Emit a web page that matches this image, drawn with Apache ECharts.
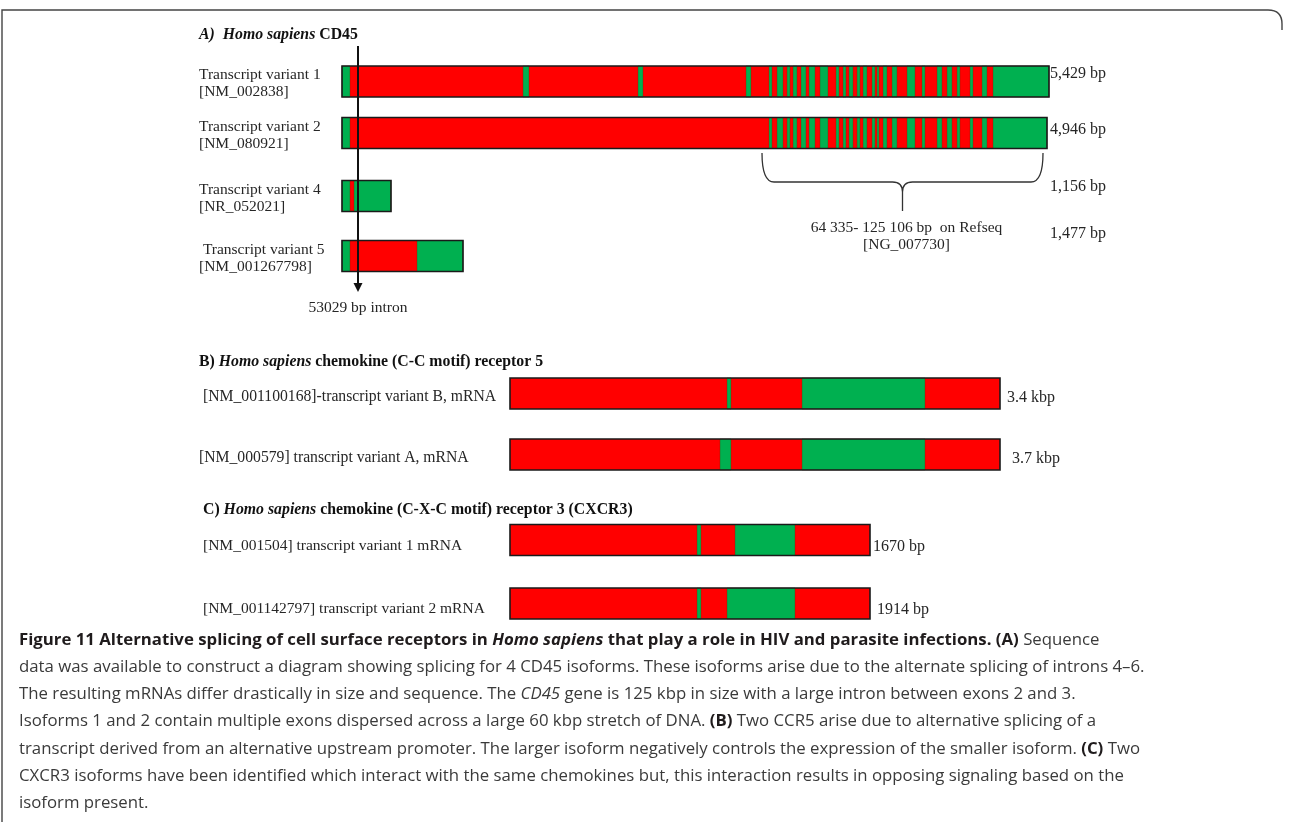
<!DOCTYPE html>
<html>
<head>
<meta charset="utf-8">
<title>Figure 11 - alternative splicing</title>
<script src="https://cdn.jsdelivr.net/npm/echarts@6/dist/echarts.min.js"></script>
<style>
  html, body { margin: 0; padding: 0; background: #fff; }
  #chart { width: 1292px; height: 822px; }
</style>
</head>
<body>
<div id="chart"></div>
<script>
// ---- values (x in diagram units along the transcripts) ----
const cd45Labels = ['Transcript variant 1\n[NM_002838]', 'Transcript variant 2\n[NM_080921]', 'Transcript variant 4\n[NR_052021]', ' Transcript variant 5\n[NM_001267798]']
const cd45Sizes = ['5,429 bp', '4,946 bp', '1,156 bp', '1,477 bp']
const cd45Spans = [[342, 1049], [342, 1047], [342, 391], [342, 463]]
const cd45Dense = [[769, 772], [777, 783], [787, 790], [793, 797], [801, 806], [809, 815], [820, 828], [836, 839], [843, 846], [849, 853], [857, 860], [863, 867], [872, 875], [877, 879], [883, 887], [892, 897], [907, 915], [922, 925], [937, 942], [947, 952], [957, 960], [970, 973], [982, 987]]
const cd45Green = [
  [[342, 350], [523, 529], [638, 643], [746, 751]].concat(cd45Dense, [[993, 1049]]),
  [[342, 350]].concat(cd45Dense, [[993, 1047]]),
  [[342, 350], [354, 391]],
  [[342, 350], [417, 463]]
]
const intronAt = 358
const intronLabel = '53029 bp intron'
const refseqSpan = [762, 1043]
const refseqLabel = '64 335- 125 106 bp  on Refseq\n[NG_007730]'

const ccr5Labels = ['[NM_001100168]-transcript variant B, mRNA', '[NM_000579] transcript variant A, mRNA']
const ccr5Sizes = ['3.4 kbp', '3.7 kbp']
const ccr5Spans = [[510, 1000], [510, 1000]]
const ccr5Green = [[[727, 731], [802, 925]], [[720, 731], [802, 925]]]

const cxcr3Labels = ['[NM_001504] transcript variant 1 mRNA', '[NM_001142797] transcript variant 2 mRNA']
const cxcr3Sizes = ['1670 bp', '1914 bp']
const cxcr3Spans = [[510, 870], [510, 870]]
const cxcr3Green = [[[697, 701], [735, 795]], [[697, 701], [727, 795]]]

// ---- layout / styles ----
const RED = '#ff0000'
const GREEN = '#00b050'
const SERIF = '"Liberation Serif", "Times New Roman", serif'
const SANS = '"Open Sans", "Noto Sans", sans-serif'
const CAP_SIZE = 16.8
const BAR_H = 31
const rows = {
  cd45: [81.5, 133, 196, 256],
  ccr5: [393.5, 454.5],
  cxcr3: [540, 603.5]
}
const cd45SizeY = [74, 130, 187, 234]
const labelX = 199
const arrowTop = 46
const arrowTip = 292
const braceTop = 153
const braceBottom = 182
const braceStem = 211

function buildSegments (spans, greens, ys) {
  var out = []
  spans.forEach((s, i) => {
    out.push([s[0], s[1], ys[i], 0])
    greens[i].forEach(g => out.push([g[0], g[1], ys[i], 1]))
  })
  return out
}
function buildOutlines (spans, ys) {
  return spans.map((s, i) => [s[0], s[1], ys[i]])
}

const segData = [].concat(
  buildSegments(cd45Spans, cd45Green, rows.cd45),
  buildSegments(ccr5Spans, ccr5Green, rows.ccr5),
  buildSegments(cxcr3Spans, cxcr3Green, rows.cxcr3)
)
const outlineData = [].concat(
  buildOutlines(cd45Spans, rows.cd45),
  buildOutlines(ccr5Spans, rows.ccr5),
  buildOutlines(cxcr3Spans, rows.cxcr3)
)

const chart = echarts.init(document.getElementById('chart'))

function barRect (api) {
  var p0 = api.coord([api.value(0), api.value(2)])
  var p1 = api.coord([api.value(1), api.value(2)])
  var h = api.size([0, BAR_H])[1]
  return { x: p0[0], y: p0[1] - h / 2, width: p1[0] - p0[0], height: h }
}

chart.setOption({
  animation: false,
  grid: { left: 0, right: 0, top: 0, bottom: 0 },
  xAxis: { type: 'value', min: 0, max: 1292, show: false },
  yAxis: { type: 'value', min: 0, max: 822, inverse: true, show: false },
  series: [
    {
      type: 'custom',
      name: 'segments',
      encode: { x: [0, 1], y: 2 },
      data: segData,
      renderItem: function (params, api) {
        var green = api.value(3) === 1
        return {
          type: 'rect',
          shape: barRect(api),
          style: {
            fill: green ? GREEN : RED,
            stroke: green ? 'rgba(110,40,0,0.45)' : null,
            lineWidth: green ? 0.8 : 0
          }
        }
      }
    },
    {
      type: 'custom',
      name: 'outlines',
      encode: { x: [0, 1], y: 2 },
      data: outlineData,
      renderItem: function (params, api) {
        return {
          type: 'rect',
          shape: barRect(api),
          style: { fill: null, stroke: '#1a1a1a', lineWidth: 1.6 }
        }
      }
    },
    {
      // 53029 bp intron arrow
      type: 'custom',
      name: 'intron',
      encode: { x: 0, y: [1, 2] },
      data: [[intronAt, arrowTop, arrowTip]],
      renderItem: function (params, api) {
        var p0 = api.coord([api.value(0), api.value(1)])
        var p1 = api.coord([api.value(0), api.value(2)])
        return {
          type: 'group',
          children: [
            { type: 'line', shape: { x1: p0[0], y1: p0[1], x2: p1[0], y2: p1[1] - 6 }, style: { stroke: '#111', lineWidth: 2 } },
            { type: 'polygon', shape: { points: [[p1[0] - 4.5, p1[1] - 9], [p1[0] + 4.5, p1[1] - 9], [p1[0], p1[1]]] }, style: { fill: '#111' } }
          ]
        }
      }
    },
    {
      // refseq brace under the alternatively spliced region
      type: 'custom',
      name: 'brace',
      encode: { x: [0, 1], y: [2, 3] },
      data: [[refseqSpan[0], refseqSpan[1], braceTop, braceBottom, braceStem]],
      renderItem: function (params, api) {
        var l = api.coord([api.value(0), api.value(2)])
        var r = api.coord([api.value(1), api.value(2)])
        var by = api.coord([0, api.value(3)])[1]
        var sy = api.coord([0, api.value(4)])[1]
        var m = (l[0] + r[0]) / 2
        var d = 'M' + l[0] + ' ' + l[1] + ' Q' + l[0] + ' ' + by + ' ' + (l[0] + 12) + ' ' + by +
          ' L' + (m - 10) + ' ' + by + ' Q' + m + ' ' + by + ' ' + m + ' ' + (by + 10) + ' L' + m + ' ' + sy +
          ' M' + m + ' ' + (by + 10) + ' Q' + m + ' ' + by + ' ' + (m + 10) + ' ' + by +
          ' L' + (r[0] - 12) + ' ' + by + ' Q' + r[0] + ' ' + by + ' ' + r[0] + ' ' + r[1]
        return { type: 'path', shape: { pathData: d }, style: { fill: null, stroke: '#333', lineWidth: 1.3 } }
      }
    }
  ]
})

// ---- texts & frame ----
function px (x, y) {
  return chart.convertToPixel({ gridIndex: 0 }, [x, y])
}
function serifText (text, x, y, align, size) {
  return {
    type: 'text', x: x, y: y, silent: true,
    style: { text: text, align: align || 'left', verticalAlign: 'middle', fontFamily: SERIF, fontSize: size || 15.5, lineHeight: 17, fill: '#262626' }
  }
}
function richText (text, x, y, rich) {
  return {
    type: 'text', x: x, y: y, silent: true,
    style: { text: text, align: 'left', verticalAlign: 'middle', rich: rich }
  }
}

const titleRich = {
  b: { fontFamily: SERIF, fontSize: 15.8, fontWeight: 'bold', fill: '#111' },
  bi: { fontFamily: SERIF, fontSize: 15.8, fontWeight: 'bold', fontStyle: 'italic', fill: '#111' }
}
const capRich = {
  b: { fontFamily: SANS, fontSize: CAP_SIZE, fontWeight: 'bold', fill: '#1f1b1c' },
  bi: { fontFamily: SANS, fontSize: CAP_SIZE, fontWeight: 'bold', fontStyle: 'italic', fill: '#1f1b1c' },
  i: { fontFamily: SANS, fontSize: CAP_SIZE, fontStyle: 'italic', fill: '#3a3a3a' },
  n: { fontFamily: SANS, fontSize: CAP_SIZE, fill: '#3a3a3a' }
}
const captionLines = [
  '{b|Figure 11 Alternative splicing of cell surface receptors in }{bi|Homo sapiens}{b| that play a role in HIV and parasite infections. (A)}{n| Sequence}',
  '{n|data was available to construct a diagram showing splicing for 4 CD45 isoforms. These isoforms arise due to the alternate splicing of introns 4–6.}',
  '{n|The resulting mRNAs differ drastically in size and sequence. The }{i|CD45}{n| gene is 125 kbp in size with a large intron between exons 2 and 3.}',
  '{n|Isoforms 1 and 2 contain multiple exons dispersed across a large 60 kbp stretch of DNA. }{b|(B)}{n| Two CCR5 arise due to alternative splicing of a}',
  '{n|transcript derived from an alternative upstream promoter. The larger isoform negatively controls the expression of the smaller isoform. }{b|(C)}{n| Two}',
  '{n|CXCR3 isoforms have been identified which interact with the same chemokines but, this interaction results in opposing signaling based on the}',
  '{n|isoform present.}'
]

var g = []
// frame
g.push({ type: 'polyline', silent: true, shape: { points: [[2, 822], [2, 10], [1268, 10]] }, style: { fill: null, stroke: '#444', lineWidth: 1.4 } })
g.push({ type: 'bezierCurve', silent: true, shape: { x1: 1268, y1: 10, cpx1: 1282, cpy1: 10, x2: 1282, y2: 24 }, style: { fill: null, stroke: '#444', lineWidth: 1.4 } })
g.push({ type: 'line', silent: true, shape: { x1: 1282, y1: 24, x2: 1282, y2: 30 }, style: { stroke: '#444', lineWidth: 1.4 } })

// section titles
g.push(richText('{bi|A)  Homo sapiens }{b|CD45}', labelX, 35, titleRich))
g.push(richText('{b|B) }{bi|Homo sapiens}{b| chemokine (C-C motif) receptor 5}', labelX, 362, titleRich))
g.push(richText('{b|C) }{bi|Homo sapiens}{b| chemokine (C-X-C motif) receptor 3 (CXCR3)}', 203, 510, titleRich))

// row labels
cd45Labels.forEach((t, i) => g.push(serifText(t, labelX, rows.cd45[i] + 2)))
ccr5Labels.forEach((t, i) => g.push(serifText(t, i === 0 ? 203 : labelX, rows.ccr5[i] + 3, 'left', 15.7)))
cxcr3Labels.forEach((t, i) => g.push(serifText(t, 203, rows.cxcr3[i] + 6 - i)))

// size labels
cd45Sizes.forEach((t, i) => g.push(serifText(t, px(cd45Spans[0][1], 0)[0] + 1, cd45SizeY[i], 'left', 16)))
ccr5Sizes.forEach((t, i) => g.push(serifText(t, px(ccr5Spans[i][1], 0)[0] + 7 + i * 5, rows.ccr5[i] + 4, 'left', 16)))
cxcr3Sizes.forEach((t, i) => g.push(serifText(t, px(cxcr3Spans[i][1], 0)[0] + 3 + i * 4, rows.cxcr3[i] + 7 - i * 0.5, 'left', 16)))

// intron label and refseq label
g.push(serifText(intronLabel, px(intronAt, 0)[0], 308, 'center', 15.5))
g.push({
  type: 'text', x: (px(refseqSpan[0], 0)[0] + px(refseqSpan[1], 0)[0]) / 2 + 4, y: 236, silent: true,
  style: { text: refseqLabel, align: 'center', verticalAlign: 'middle', fontFamily: SERIF, fontSize: 15.5, lineHeight: 17, fill: '#262626' }
})

// caption
captionLines.forEach((t, i) => g.push(richText(t, 19, 640 + i * 27.2, capRich)))

chart.setOption({ graphic: g })
</script>
</body>
</html>
